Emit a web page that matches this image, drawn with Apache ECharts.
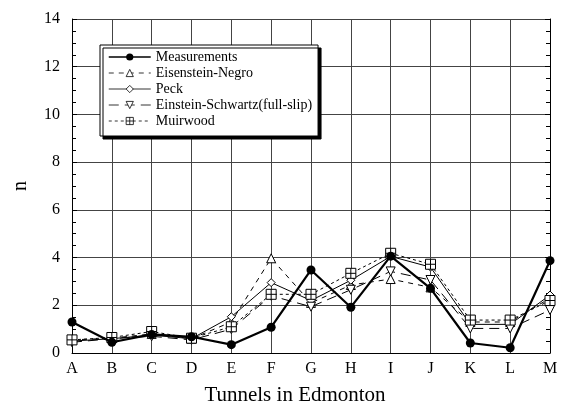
<!DOCTYPE html>
<html>
<head>
<meta charset="utf-8">
<script src="https://cdn.jsdelivr.net/npm/echarts@6/dist/echarts.min.js"></script>
<style>
  html, body { margin: 0; padding: 0; background: #fff; }
  #main { width: 564px; height: 405px; }
</style>
</head>
<body>
<div id="main"></div>
<script>
// tunnels (x axis categories)
var tunnels = ['A', 'B', 'C', 'D', 'E', 'F', 'G', 'H', 'I', 'J', 'K', 'L', 'M'];
var yTicks = [0, 2, 4, 6, 8, 10, 12, 14];

// n values
var measurements = [1.3, 0.45, 0.78, 0.68, 0.35, 1.08, 3.48, 1.92, 4.06, 2.71, 0.42, 0.22, 3.87];
var eisensteinNegro = [0.55, 0.62, 0.8, 0.6, 1.3, 3.97, 2.1, 2.85, 3.1, 2.75, 1.3, 1.3, 2.3];
var peck = [0.5, 0.6, 0.75, 0.6, 1.52, 2.95, 2.2, 3.05, 4.05, 3.6, 1.2, 1.2, 2.43];
var einsteinSchwartz = [0.45, 0.6, 0.7, 0.55, 1.0, 2.4, 1.94, 2.65, 3.42, 3.06, 1.03, 1.03, 1.8];
var muirwood = [0.55, 0.65, 0.9, 0.62, 1.1, 2.46, 2.46, 3.34, 4.18, 3.72, 1.38, 1.38, 2.2];

var serif = 'Liberation Serif';
var boxCross = 'path://M0,0H10V10H0Z M5,0V10 M0,5H10';

var chart = echarts.init(document.getElementById('main'));

function yAxisOf(side) {
  return {
    type: 'value',
    position: side,
    min: yTicks[0],
    max: yTicks[yTicks.length - 1],
    interval: 2,
    name: side === 'left' ? 'n' : '',
    nameLocation: 'middle',
    nameGap: 41,
    nameTextStyle: { fontFamily: serif, fontSize: 20, color: '#000' },
    axisLine: { show: true, lineStyle: { color: '#000', width: 1 } },
    axisTick: { show: true, inside: true, length: 5, lineStyle: { color: '#000' } },
    minorTick: { show: true, splitNumber: 4, length: 4, lineStyle: { color: '#000' } },
    axisLabel: {
      show: side === 'left',
      fontFamily: serif, fontSize: 16, color: '#000', margin: 12
    },
    splitLine: { show: side === 'left', lineStyle: { color: '#444', width: 1 } }
  };
}

function legendItem(name, w) {
  return { name: name, lineStyle: { width: w }, itemStyle: { borderWidth: 0.8 } };
}

var option = {
  backgroundColor: '#fff',
  animation: false,
  grid: { left: 72, right: 14, top: 19, bottom: 52, outerBoundsMode: 'none' },
  legend: {
    orient: 'vertical',
    left: 100,
    top: 45,
    padding: [5, 6, 8, 8],
    itemGap: 2,
    itemWidth: 42,
    itemHeight: 9,
    backgroundColor: '#fff',
    borderColor: '#000',
    borderWidth: 1,
    shadowColor: '#000',
    shadowBlur: 0,
    shadowOffsetX: 3,
    shadowOffsetY: 3,
    textStyle: { fontFamily: serif, fontSize: 14, lineHeight: 14, color: '#000' },
    data: [
      legendItem('Measurements', 1.5),
      legendItem('Eisenstein-Negro', 0.8),
      legendItem('Peck', 0.8),
      legendItem('Einstein-Schwartz(full-slip)', 0.8),
      legendItem('Muirwood', 0.8)
    ]
  },
  xAxis: {
    type: 'category',
    data: tunnels,
    boundaryGap: false,
    name: 'Tunnels in Edmonton',
    nameLocation: 'middle',
    nameGap: 32,
    nameTextStyle: { fontFamily: serif, fontSize: 21, color: '#000', padding: [0, 32, 0, 0] },
    axisLine: { show: true, lineStyle: { color: '#000', width: 1 } },
    axisTick: { show: false },
    axisLabel: { fontFamily: serif, fontSize: 16, color: '#000', margin: 8 },
    splitLine: { show: true, lineStyle: { color: '#444', width: 1 } }
  },
  yAxis: [yAxisOf('left'), yAxisOf('right')],
  series: [
    {
      name: 'Measurements', type: 'line', data: measurements,
      symbol: 'circle', symbolSize: 9,
      lineStyle: { color: '#000', width: 2.2 },
      itemStyle: { color: '#000' },
      z: 5
    },
    {
      name: 'Eisenstein-Negro', type: 'line', data: eisensteinNegro,
      symbol: 'triangle', symbolSize: 9,
      lineStyle: { color: '#000', width: 1, type: [5, 5] },
      itemStyle: { color: '#fff', borderColor: '#000', borderWidth: 1 }
    },
    {
      name: 'Peck', type: 'line', data: peck,
      symbol: 'diamond', symbolSize: 8,
      lineStyle: { color: '#000', width: 1 },
      itemStyle: { color: '#fff', borderColor: '#000', borderWidth: 1 }
    },
    {
      name: 'Einstein-Schwartz(full-slip)', type: 'line', data: einsteinSchwartz,
      symbol: 'triangle', symbolRotate: 180, symbolSize: 9,
      lineStyle: { color: '#000', width: 1, type: [10, 6] },
      itemStyle: { color: '#fff', borderColor: '#000', borderWidth: 1 }
    },
    {
      name: 'Muirwood', type: 'line', data: muirwood,
      symbol: boxCross, symbolSize: 10,
      lineStyle: { color: '#000', width: 1, type: [3, 3] },
      itemStyle: { color: '#fff', borderColor: '#000', borderWidth: 1 }
    }
  ]
};

chart.setOption(option);
</script>
</body>
</html>
